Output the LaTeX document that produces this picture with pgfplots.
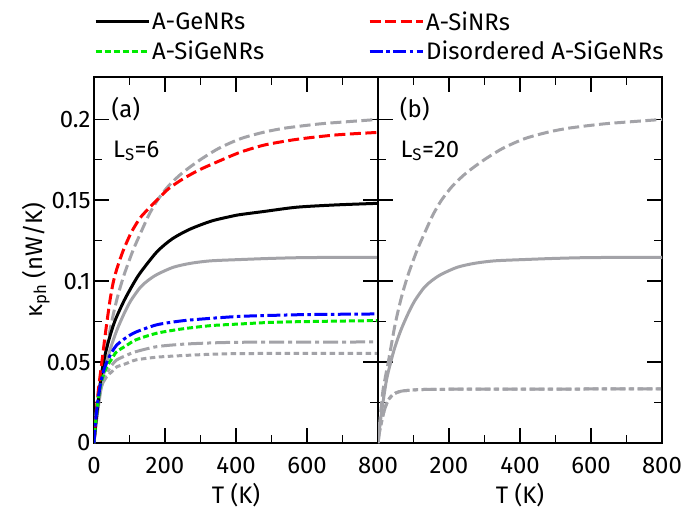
\documentclass[border=0pt]{standalone}
\usepackage{fontspec}
\setmainfont{Fira Sans}
\usepackage{pgfplots}
\usepackage{pgfplotstable}
\pgfplotsset{compat=1.18}

\definecolor{refgray}{RGB}{163,163,168}
\definecolor{cred}{RGB}{255,0,0}
\definecolor{cgreen}{RGB}{0,235,0}
\definecolor{cblue}{RGB}{0,0,255}

% thermal conductance kappa_ph (nW/K) versus temperature T (K)
\pgfplotstableread{
T k
0 0
5 0.013
10 0.024
15 0.034
29 0.050
48 0.073
66 0.090
85 0.104
110 0.119
132 0.130
155 0.141
179 0.150
211 0.159
250 0.167
300 0.175
352 0.182
414 0.188
480 0.192
540 0.1945
634 0.197
720 0.1985
800 0.1998
}\pureSi
\pgfplotstableread{
T k
0 0
5 0.010
12 0.022
24 0.039
36 0.050
48 0.0595
65 0.070
85 0.080
104 0.088
130 0.096
150 0.100
177 0.104
223 0.1085
273 0.111
330 0.1125
414 0.1133
500 0.1140
600 0.1145
800 0.1147
}\pureGe
\pgfplotstableread{
T k
0 0
4 0.012
7.5 0.022
14 0.036
21.6 0.049
30 0.064
36 0.074
45 0.088
54 0.099
65 0.108
82.6 0.119
105 0.130
130 0.139
155 0.145
177 0.150
210 0.157
250 0.163
300 0.169
383 0.177
411 0.1795
480 0.184
571 0.1875
680 0.1902
800 0.1918
}\siL
\pgfplotstableread{
T k
0 0
5 0.012
10 0.022
17 0.036
26 0.049
35 0.058
45 0.066
60 0.076
85 0.088
110 0.098
130 0.105
177 0.118
220 0.126
270 0.132
330 0.137
383 0.1398
411 0.141
480 0.143
571 0.1456
680 0.147
800 0.148
}\geL
\pgfplotstableread{
T k
0 0
3 0.009
7.5 0.019
12 0.027
17 0.034
25 0.041
36 0.047
50 0.052
64 0.0564
90 0.060
118 0.0637
177 0.0678
250 0.0705
330 0.0725
411 0.0735
500 0.0745
600 0.075
800 0.0756
}\sigeL
\pgfplotstableread{
T k
0 0
3 0.010
7.5 0.020
12 0.028
17 0.035
25 0.043
36 0.050
50 0.056
64 0.0605
90 0.065
118 0.0685
177 0.073
250 0.0755
330 0.077
411 0.0782
500 0.0788
600 0.0793
800 0.0797
}\disL
\pgfplotstableread{
T k
0 0
3 0.009
7 0.018
12 0.026
20 0.034
36 0.043
50 0.048
64 0.0513
90 0.054
118 0.0564
177 0.0595
250 0.061
330 0.0618
411 0.0622
600 0.0623
800 0.0624
}\sigeRefL
\pgfplotstableread{
T k
0 0
3 0.010
6 0.018
10 0.0266
20 0.035
36 0.041
50 0.044
64 0.047
90 0.049
118 0.0513
177 0.053
250 0.054
330 0.0548
411 0.0552
600 0.0554
800 0.0554
}\sigeRefS
\pgfplotstableread{
T k
0 0
5 0.008
10 0.013
15 0.018
22 0.023
29 0.0266
38 0.029
48 0.0307
65 0.032
85 0.0325
120 0.033
200 0.0332
400 0.0333
800 0.0334
}\sigeLong

\newcommand{\fs}{\fontsize{24}{28}\selectfont}

\pgfplotsset{
  panel/.style={
    scale only axis, width=284bp, height=366bp,
    xmin=0, xmax=800, ymin=0, ymax=0.226,
    axis line style={line width=1.4bp},
    every tick/.style={line width=1.2bp, black},
    major tick length=15bp, minor tick length=8bp,
    tick align=inside,
    xtick={0,200,400,600,800}, minor xtick={100,300,500,700},
    ytick={0,0.05,0.1,0.15,0.2}, minor ytick={0.025,0.075,0.125,0.175},
    xtick pos=both, ytick pos=both,
    xticklabel pos=lower, yticklabel pos=left,
    tick label style={font=\fs},
    xticklabel style={yshift=-11bp},
    label style={font=\fs},
    xlabel={T (K)},
    xlabel style={at={(axis description cs:0.5,0)}, anchor=center, yshift=-52bp},
    every axis plot/.append style={line width=3bp, smooth, tension=0.45},
  },
  sidash/.style={dash pattern=on 11bp off 4.5bp},
  sgdash/.style={dash pattern=on 6bp off 3bp},
  refshort/.style={dash pattern=on 5.5bp off 3.5bp},
  disdash/.style={dash pattern=on 13bp off 3.5bp on 3.5bp off 3.5bp},
  refdashdot/.style={dash pattern=on 15bp off 4bp on 4bp off 4bp},
}

\begin{document}
\begin{tikzpicture}
\useasboundingbox (0bp,0bp) rectangle (686bp,-514bp);

\begin{axis}[panel,
  at={(94bp,-443bp)}, anchor=south west,
  xticklabels={0,200,400,600,800},
  yticklabels={0,0.05,0.1,0.15,0.2},
  ylabel={κ\textsubscript{ph} (nW/K)},
  ylabel style={at={(axis description cs:-0.205,0.5)}, anchor=center},
  legend columns=2,
  legend image code/.code={\draw[#1, smooth=false] (0bp,0bp) -- (53bp,0bp);},
  legend style={at={(0,1.184)}, anchor=north west, draw=none, fill=none,
    font=\fs, inner sep=0pt, row sep=5bp,
    /tikz/every even column/.append style={column sep=102bp}},
  legend cell align=left,
]
\addplot[refgray, sidash, forget plot] table[x=T,y=k] {\pureSi};
\addplot[refgray, forget plot] table[x=T,y=k] {\pureGe};
\addplot[refgray, refdashdot, forget plot] table[x=T,y=k] {\sigeRefL};
\addplot[refgray, refshort, forget plot] table[x=T,y=k] {\sigeRefS};
\addplot[black] table[x=T,y=k] {\geL};
\addlegendentry{A-GeNRs}
\addplot[cred, sidash] table[x=T,y=k] {\siL};
\addlegendentry{A-SiNRs}
\addplot[cgreen, sgdash] table[x=T,y=k] {\sigeL};
\addlegendentry{A-SiGeNRs}
\addplot[cblue, disdash] table[x=T,y=k] {\disL};
\addlegendentry{Disordered A-SiGeNRs}
\node[anchor=base west, font=\fs] at (axis description cs:0.05,0.888) {(a)};
\node[anchor=base west, font=\fs] at (axis description cs:0.055,0.781) {L\textsubscript{S}=6};
\end{axis}

\begin{axis}[panel,
  at={(378bp,-443bp)}, anchor=south west,
  xticklabels={,200,400,600,800},
  yticklabels={},
]
\addplot[refgray, sidash] table[x=T,y=k] {\pureSi};
\addplot[refgray] table[x=T,y=k] {\pureGe};
\addplot[refgray, refdashdot] table[x=T,y=k] {\sigeLong};
\addplot[refgray, refshort] table[x=T,y=k] {\sigeLong};
\node[anchor=base west, font=\fs] at (axis description cs:0.065,0.888) {(b)};
\node[anchor=base west, font=\fs] at (axis description cs:0.067,0.781) {L\textsubscript{S}=20};
\end{axis}
\end{tikzpicture}
\end{document}
